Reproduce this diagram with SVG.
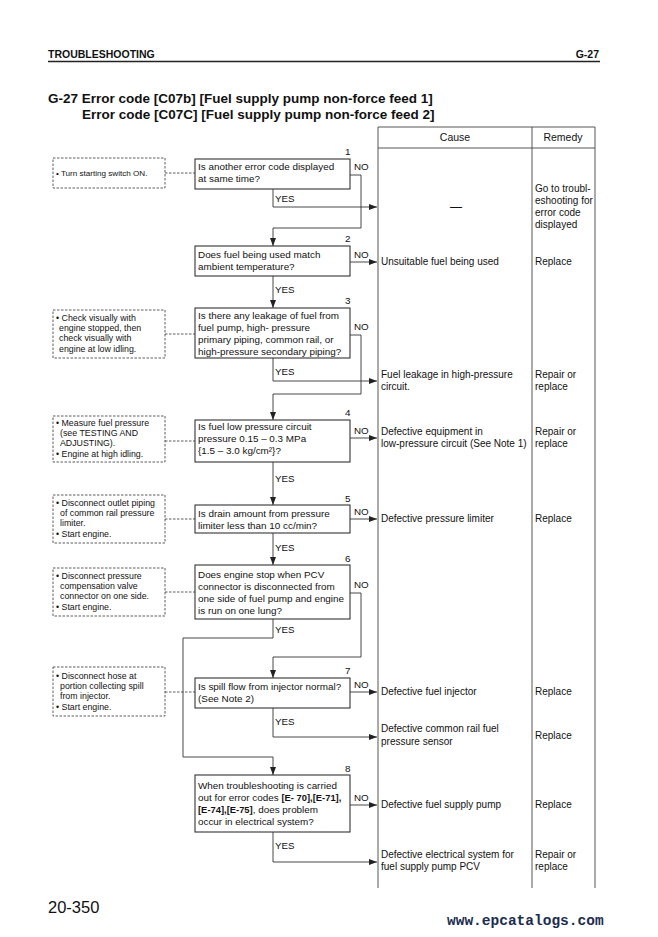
<svg xmlns="http://www.w3.org/2000/svg" width="658" height="937" viewBox="0 0 658 937">
<defs>
<marker id="ar" viewBox="0 0 8 6" refX="8" refY="3" markerWidth="8" markerHeight="6" markerUnits="userSpaceOnUse" orient="auto"><path d="M0,0 L8,3 L0,6 z" fill="#222"/></marker>
<style>
text{font-family:"Liberation Sans",Arial,sans-serif;fill:#111}
.q{font-size:9.9px}
.b{font-size:9.4px}
.n{font-size:8.8px}
.c{font-size:10px}
.lbl{font-size:9.8px}
.box{fill:#fff;stroke:#333;stroke-width:1.1}
.note{fill:none;stroke:#333;stroke-width:0.8;stroke-dasharray:2.5,1.5}
.dl{stroke:#333;stroke-width:0.8;stroke-dasharray:2.5,1.5;fill:none}
.ln{fill:none;stroke:#333;stroke-width:0.9}
.tb{fill:none;stroke:#444;stroke-width:0.9}
</style>
</defs>
<rect width="658" height="937" fill="#fff"/>
<g id="header">
<text x="48" y="58" style="font-size:10.5px;font-weight:bold">TROUBLESHOOTING</text>
<text x="599" y="58" text-anchor="end" style="font-size:10.5px;font-weight:bold">G-27</text>
<line x1="48" y1="61.5" x2="600" y2="61.5" stroke="#222" stroke-width="1.5"/>
<text x="48" y="103" style="font-size:13.5px;font-weight:bold">G-27 Error code [C07b] [Fuel supply pump non-force feed 1]</text>
<text x="82" y="119" style="font-size:13.5px;font-weight:bold">Error code [C07C] [Fuel supply pump non-force feed 2]</text>
</g>
<g id="table">
<path class="tb" d="M378,888 V127 H595 V888 M532,127 V888 M378,148 H595"/>
<text x="455" y="141" text-anchor="middle" style="font-size:10.5px">Cause</text>
<text x="563" y="141" text-anchor="middle" style="font-size:10.5px">Remedy</text>
</g>
<g id="connectors">
<path class="ln" d="M350,175 H361 V228 H273 V246" marker-end="url(#ar)"/>
<path class="ln" d="M273,189 V207 H377" marker-end="url(#ar)"/>
<path class="ln" d="M350,262 H377" marker-end="url(#ar)"/>
<path class="ln" d="M273,276 V308" marker-end="url(#ar)"/>
<path class="ln" d="M350,335 H361 V394 H273 V420" marker-end="url(#ar)"/>
<path class="ln" d="M273,358 V381 H377" marker-end="url(#ar)"/>
<path class="ln" d="M350,438 H377" marker-end="url(#ar)"/>
<path class="ln" d="M273,462 V505" marker-end="url(#ar)"/>
<path class="ln" d="M350,519 H377" marker-end="url(#ar)"/>
<path class="ln" d="M273,533 V565" marker-end="url(#ar)"/>
<path class="ln" d="M350,593 H361 V657 H273 V678" marker-end="url(#ar)"/>
<path class="ln" d="M273,619 V638 H183 V757 H273 V775" marker-end="url(#ar)"/>
<path class="ln" d="M350,692 H377" marker-end="url(#ar)"/>
<path class="ln" d="M273,708 V737 H377" marker-end="url(#ar)"/>
<path class="ln" d="M350,805 H377" marker-end="url(#ar)"/>
<path class="ln" d="M273,832 V862 H377" marker-end="url(#ar)"/>
<path class="dl" d="M165,173 H195 M165,334 H195 M165,441 H195 M165,519 H195 M165,592 H195 M165,692 H195"/>
<g class="lbl">
<text x="354" y="170">NO</text><text x="275" y="202">YES</text>
<text x="354" y="258">NO</text><text x="275" y="293">YES</text>
<text x="354" y="330">NO</text><text x="275" y="375">YES</text>
<text x="354" y="434">NO</text><text x="275" y="482">YES</text>
<text x="354" y="515">NO</text><text x="275" y="551">YES</text>
<text x="354" y="588">NO</text><text x="275" y="633">YES</text>
<text x="354" y="688">NO</text><text x="275" y="725">YES</text>
<text x="354" y="801">NO</text><text x="275" y="849">YES</text>
</g>
</g>
<g id="n1"><rect class="box" x="195" y="159" width="155" height="30"/><text class="q" x="198" y="170">Is another error code displayed</text><text class="q" x="198" y="182">at same time?</text><text class="q" x="345" y="155">1</text></g>
<g id="n2"><rect class="box" x="195" y="246" width="155" height="30"/><text class="q" x="198" y="258">Does fuel being used match</text><text class="q" x="198" y="270">ambient temperature?</text><text class="q" x="345" y="242">2</text></g>
<g id="n3"><rect class="box" x="195" y="308" width="155" height="50"/><text class="q" x="198" y="319">Is there any leakage of fuel from</text><text class="q" x="198" y="331">fuel pump, high- pressure</text><text class="q" x="198" y="343">primary piping, common rail, or</text><text class="q" x="198" y="355">high-pressure secondary piping?</text><text class="q" x="345" y="304">3</text></g>
<g id="n4"><rect class="box" x="195" y="420" width="155" height="42"/><text class="q" x="198" y="430">Is fuel low pressure circuit</text><text class="q" x="198" y="442">pressure 0.15 – 0.3 MPa</text><text class="q" x="198" y="454">{1.5 – 3.0 kg/cm²}?</text><text class="q" x="345" y="416">4</text></g>
<g id="n5"><rect class="box" x="195" y="505" width="155" height="28"/><text class="q" x="198" y="517">Is drain amount from pressure</text><text class="q" x="198" y="529">limiter less than 10 cc/min?</text><text class="q" x="345" y="502">5</text></g>
<g id="n6"><rect class="box" x="195" y="565" width="155" height="54"/><text class="q" x="198" y="578">Does engine stop when PCV</text><text class="q" x="198" y="590">connector is disconnected from</text><text class="q" x="198" y="602">one side of fuel pump and engine</text><text class="q" x="198" y="614">is run on one lung?</text><text class="q" x="345" y="562">6</text></g>
<g id="n7"><rect class="box" x="195" y="678" width="155" height="30"/><text class="q" x="198" y="690">Is spill flow from injector normal?</text><text class="q" x="198" y="702">(See Note 2)</text><text class="q" x="345" y="674">7</text></g>
<g id="n8"><rect class="box" x="195" y="775" width="155" height="57"/><text class="q" x="198" y="789">When troubleshooting is carried</text><text class="q" x="198" y="801">out for error codes <tspan font-weight="bold" class="b">[E- 70],[E-71],</tspan></text><text class="q" x="198" y="813"><tspan font-weight="bold" class="b">[E-74],[E-75]</tspan>, does problem</text><text class="q" x="198" y="825">occur in electrical system?</text><text class="q" x="345" y="772">8</text></g>
<g id="note1"><rect class="note" x="53" y="158" width="112" height="30"/><text class="n" x="56" y="176" style="font-size:8.1px">• Turn starting switch ON.</text></g>
<g id="note3"><rect class="note" x="53" y="310" width="112" height="48"/><text class="n" x="56" y="321">• Check visually with</text><text class="n" x="59" y="331">engine stopped, then</text><text class="n" x="59" y="341">check visually with</text><text class="n" x="59" y="352">engine at low idling.</text></g>
<g id="note4"><rect class="note" x="53" y="416" width="112" height="46"/><text class="n" x="56" y="426">• Measure fuel pressure</text><text class="n" x="60" y="436">(see TESTING AND</text><text class="n" x="60" y="446">ADJUSTING).</text><text class="n" x="56" y="457">• Engine at high idling.</text></g>
<g id="note5"><rect class="note" x="53" y="495" width="112" height="48"/><text class="n" x="56" y="506">• Disconnect outlet piping</text><text class="n" x="60" y="516">of common rail pressure</text><text class="n" x="60" y="526">limiter.</text><text class="n" x="56" y="537">• Start engine.</text></g>
<g id="note6"><rect class="note" x="53" y="568" width="112" height="48"/><text class="n" x="56" y="579">• Disconnect pressure</text><text class="n" x="60" y="589">compensation valve</text><text class="n" x="60" y="599">connector on one side.</text><text class="n" x="56" y="610">• Start engine.</text></g>
<g id="note7"><rect class="note" x="53" y="667" width="112" height="49"/><text class="n" x="56" y="679">• Disconnect hose at</text><text class="n" x="60" y="689">portion collecting spill</text><text class="n" x="60" y="699">from injector.</text><text class="n" x="56" y="710">• Start engine.</text></g>
<g id="results">
<text x="456" y="211" text-anchor="middle" style="font-size:12px">—</text>
<text class="c" x="535" y="192">Go to troubl-</text><text class="c" x="535" y="204">eshooting for</text><text class="c" x="535" y="216">error code</text><text class="c" x="535" y="228">displayed</text>
<text class="c" x="381" y="265">Unsuitable fuel being used</text><text class="c" x="535" y="265">Replace</text>
<text class="c" x="381" y="378">Fuel leakage in high-pressure</text><text class="c" x="381" y="390">circuit.</text><text class="c" x="535" y="378">Repair or</text><text class="c" x="535" y="390">replace</text>
<text class="c" x="381" y="435">Defective equipment in</text><text class="c" x="381" y="447">low-pressure circuit (See Note 1)</text><text class="c" x="535" y="435">Repair or</text><text class="c" x="535" y="447">replace</text>
<text class="c" x="381" y="522">Defective pressure limiter</text><text class="c" x="535" y="522">Replace</text>
<text class="c" x="381" y="695">Defective fuel injector</text><text class="c" x="535" y="695">Replace</text>
<text class="c" x="381" y="732">Defective common rail fuel</text><text class="c" x="381" y="745">pressure sensor</text><text class="c" x="535" y="739">Replace</text>
<text class="c" x="381" y="808">Defective fuel supply pump</text><text class="c" x="535" y="808">Replace</text>
<text class="c" x="381" y="858">Defective electrical system for</text><text class="c" x="381" y="870">fuel supply pump PCV</text><text class="c" x="535" y="858">Repair or</text><text class="c" x="535" y="870">replace</text>
</g>
<g id="footer">
<text x="48" y="913" style="font-size:16.5px">20-350</text>
<text x="447" y="925" style="font-family:'Liberation Mono','DejaVu Sans Mono',monospace;font-size:14.5px;font-weight:bold;fill:#1b2d4f">www.epcatalogs.com</text>
</g>
</svg>
